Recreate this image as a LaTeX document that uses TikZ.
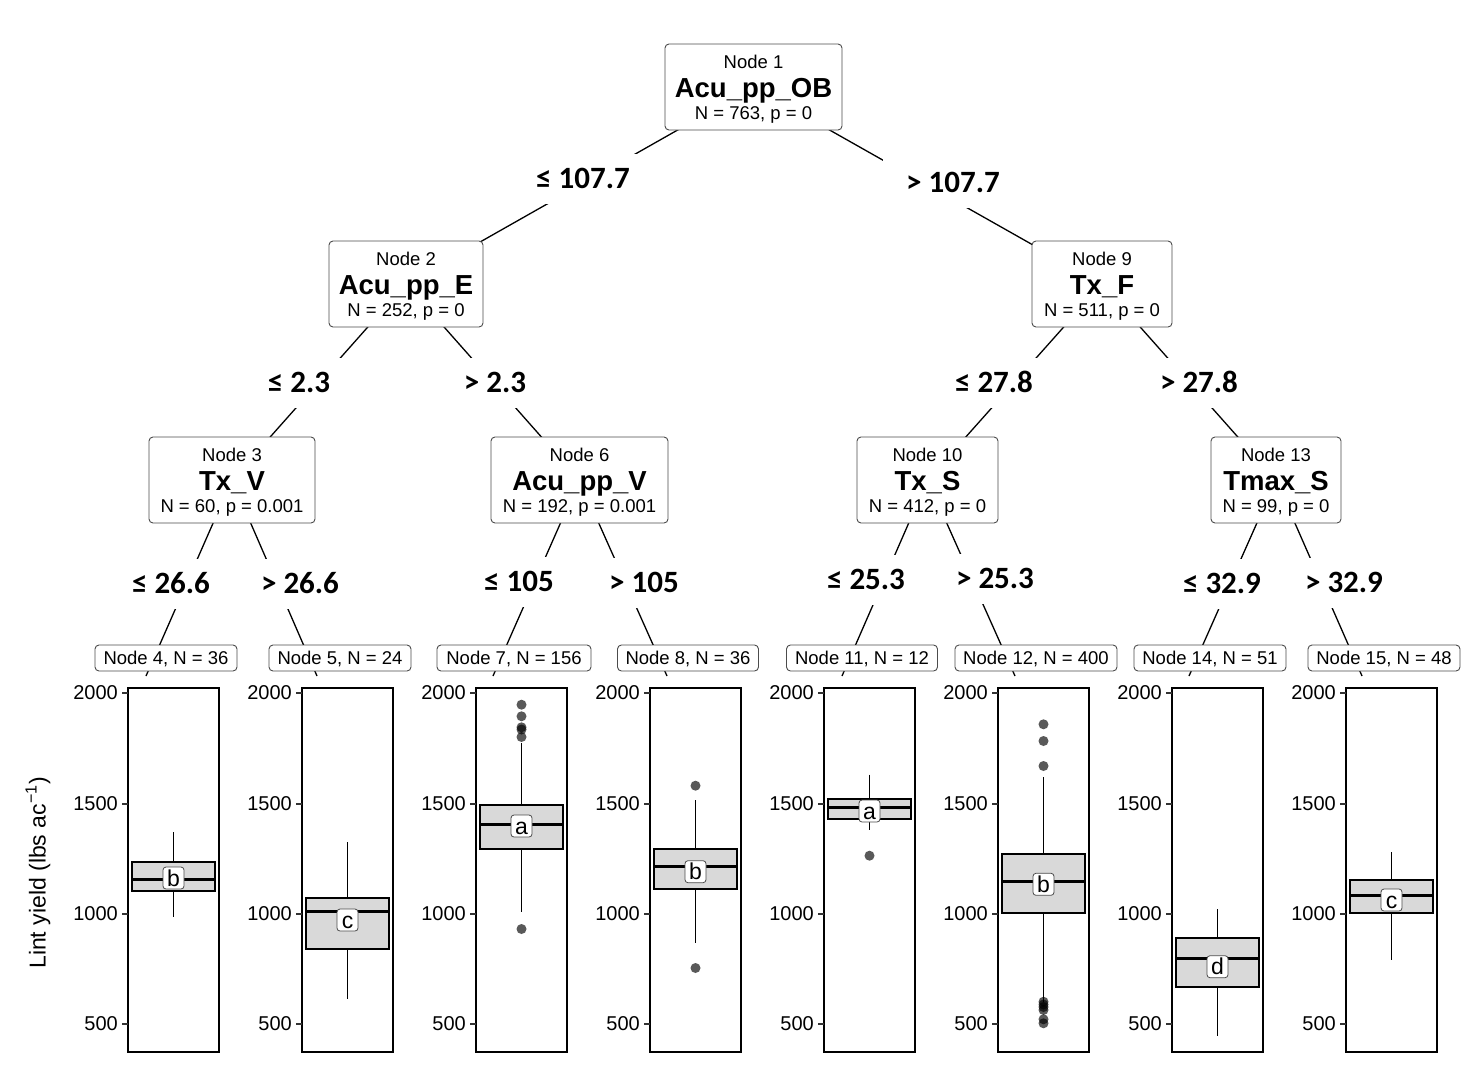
\documentclass[tikz,border=0pt]{standalone}
\usepackage{fontspec}
\setmainfont{Liberation Sans}
\newfontfamily\edgefont{Carlito}
\usepackage{tikz}

\pgfdeclarelayer{background}
\pgfsetlayers{background,main}

\newcommand{\splitvar}[1]{{\fontsize{27.5}{25}\selectfont\bfseries #1}}
\newcommand{\nodehead}[1]{\rule{0pt}{17.5pt}#1}

\begin{document}
\begin{tikzpicture}[x=1pt,y=-1pt]
    \tikzstyle{every node}=[font=\fontsize{18.5}{25}\selectfont]
    \tikzstyle{inner}=[draw=black!70, line width=0.9pt, rounded corners=4pt, fill=white,
      minimum height=86pt, align=center, inner sep=0pt]
    \tikzstyle{split}=[fill=white, minimum width=140pt, minimum height=50pt, inner sep=0pt,
      text height=19.6pt, text depth=0pt, font=\edgefont\bfseries\fontsize{31}{31}\selectfont]
    \tikzstyle{term}=[draw=black!70, line width=0.9pt, rounded corners=4pt, fill=white,
      minimum height=26pt, inner sep=0pt, text height=13.2pt, text depth=0pt]
    \tikzstyle{edge}=[line width=1.3pt]
    \tikzstyle{frame}=[line width=1.5pt]
    \tikzstyle{tick}=[line width=1.2pt, black!80]
    \tikzstyle{ticklab}=[anchor=east, inner sep=0pt, font=\fontsize{20}{24}\selectfont]
    \tikzstyle{iqr}=[line width=1.8pt, fill=black!15]
    \tikzstyle{med}=[line width=3pt]
    \tikzstyle{whisk}=[line width=1.6pt]
    \tikzstyle{letter}=[draw=black!70, line width=0.8pt, rounded corners=3pt, fill=white,
      minimum width=21pt, minimum height=22pt, inner sep=0pt, text height=16pt, text depth=0pt,
      font=\fontsize{23}{24}\selectfont]
    \tikzstyle{outl}=[fill=black, fill opacity=0.65]
    \useasboundingbox (0,0) rectangle (1468,1074);

    % inner nodes
    \node[inner, minimum width=177pt] (n1) at (753.5,87) {\nodehead{Node 1}\\[4.5pt]\splitvar{Acu\_pp\_OB}\\[-3.5pt]N = 763, p = 0};
    \node[inner, minimum width=154pt] (n2) at (406,284) {\nodehead{Node 2}\\[4.5pt]\splitvar{Acu\_pp\_E}\\[-3.5pt]N = 252, p = 0};
    \node[inner, minimum width=140pt] (n9) at (1102,284) {\nodehead{Node 9}\\[4.5pt]\splitvar{Tx\_F}\\[-3.5pt]N = 511, p = 0};
    \node[inner, minimum width=166pt] (n3) at (232,480) {\nodehead{Node 3}\\[4.5pt]\splitvar{Tx\_V}\\[-3.5pt]N = 60, p = 0.001};
    \node[inner, minimum width=177pt] (n6) at (579.5,480) {\nodehead{Node 6}\\[4.5pt]\splitvar{Acu\_pp\_V}\\[-3.5pt]N = 192, p = 0.001};
    \node[inner, minimum width=141pt] (n10) at (927.5,480) {\nodehead{Node 10}\\[4.5pt]\splitvar{Tx\_S}\\[-3.5pt]N = 412, p = 0};
    \node[inner, minimum width=130pt] (n13) at (1276,480) {\nodehead{Node 13}\\[4.5pt]\splitvar{Tmax\_S}\\[-3.5pt]N = 99, p = 0};

    % split labels
    \node[split] (l2) at (583,179) {≤ 107.7};
    \node[split] (l9) at (953,183) {> 107.7};
    \node[split] (l3) at (299,383) {≤ 2.3};
    \node[split] (l6) at (495,383) {> 2.3};
    \node[split] (l10) at (994,383) {≤ 27.8};
    \node[split] (l13) at (1199,383) {> 27.8};
    \node[split] (l4) at (171,584) {≤ 26.6};
    \node[split] (l5) at (300,584) {> 26.6};
    \node[split] (l7) at (519,582) {≤ 105};
    \node[split] (l8) at (644,583) {> 105};
    \node[split] (l11) at (866,580) {≤ 25.3};
    \node[split] (l12) at (995,579) {> 25.3};
    \node[split] (l14) at (1222,584) {≤ 32.9};
    \node[split] (l15) at (1344,583) {> 32.9};

    % terminal nodes
    \node[term, minimum width=142pt] (n4) at (166,658) {Node 4, N = 36};
    \node[term, minimum width=142pt] (n5) at (340,658) {Node 5, N = 24};
    \node[term, minimum width=154pt] (n7) at (514,658) {Node 7, N = 156};
    \node[term, minimum width=141pt] (n8) at (688,658) {Node 8, N = 36};
    \node[term, minimum width=151pt] (n11) at (862,658) {Node 11, N = 12};
    \node[term, minimum width=162pt] (n12) at (1036,658) {Node 12, N = 400};
    \node[term, minimum width=152pt] (n14) at (1210,658) {Node 14, N = 51};
    \node[term, minimum width=152pt] (n15) at (1384,658) {Node 15, N = 48};
    \coordinate (t4) at (146,676);
    \coordinate (t5) at (317,676);
    \coordinate (t7) at (493,676);
    \coordinate (t8) at (667,676);
    \coordinate (t11) at (842,676);
    \coordinate (t12) at (1015,676);
    \coordinate (t14) at (1189,676);
    \coordinate (t15) at (1362,676);

    \begin{pgfonlayer}{background}
      \foreach \a/\b in {n1/n2, n1/n9, n2/n3, n2/n6, n9/n10, n9/n13,
                         n3/t4, n3/t5, n6/t7, n6/t8, n10/t11, n10/t12, n13/t14, n13/t15}
        \draw[edge] (\a.center) -- (\b.center);
    \end{pgfonlayer}

    % boxplot panels
    \foreach \k/\wt/\qt/\md/\qb/\wb/\ly/\lt in {
        0/832/862/879.3/891/917.3/878/b,
        1/842/898.3/911.7/949.3/998.7/920/c,
        2/743.3/805.3/824.3/849/912.3/826/a,
        3/800/849/866.7/888.7/942.7/871.7/b,
        4/774.7/799/807.7/819.3/830.3/811/a,
        5/777.3/854/881/912.7/1001.7/884.3/b,
        6/909/938.3/958.7/987/1035.7/966.7/d,
        7/852.3/879.7/895.3/913/959.7/900/c} {
      \pgfmathsetmacro\L{128+174*\k}
      \pgfmathsetmacro\C{\L+45.5}
      \draw[frame] (\L,688) rectangle ({\L+91},1052);
      \foreach \v/\t in {693/2000, 804/1500, 914/1000, 1024/500} {
        \draw[tick] ({\L-6},\v) -- (\L,\v);
        \node[ticklab] at ({\L-10},\v) {\t};
      }
      \draw[whisk] (\C,\wt) -- (\C,\qt) (\C,\qb) -- (\C,\wb);
      \draw[iqr] ({\L+4},\qt) rectangle ({\L+87},\qb);
      \draw[med] ({\L+4},\md) -- ({\L+87},\md);
      \node[letter] at (\C,\ly) {\lt};
    }

    % outliers
    \foreach \x/\y in {521.5/704.7, 521.5/716.3, 521.5/727.3, 521.5/729.5, 521.5/737, 521.5/929,
                       695.5/785.7, 695.5/968, 869.5/855.7,
                       1043.5/724.3, 1043.5/741, 1043.5/766, 1043.5/1001.7, 1043.5/1004.5,
                       1043.5/1007, 1043.5/1010, 1043.5/1019.3, 1043.5/1023.3}
      \fill[outl] (\x,\y) circle[radius=5pt];

    \node[rotate=90, font=\fontsize{23}{25}\selectfont] (ytitle) at (38,873) {Lint yield (lbs ac\textsuperscript{−1})};
\end{tikzpicture}
\end{document}
